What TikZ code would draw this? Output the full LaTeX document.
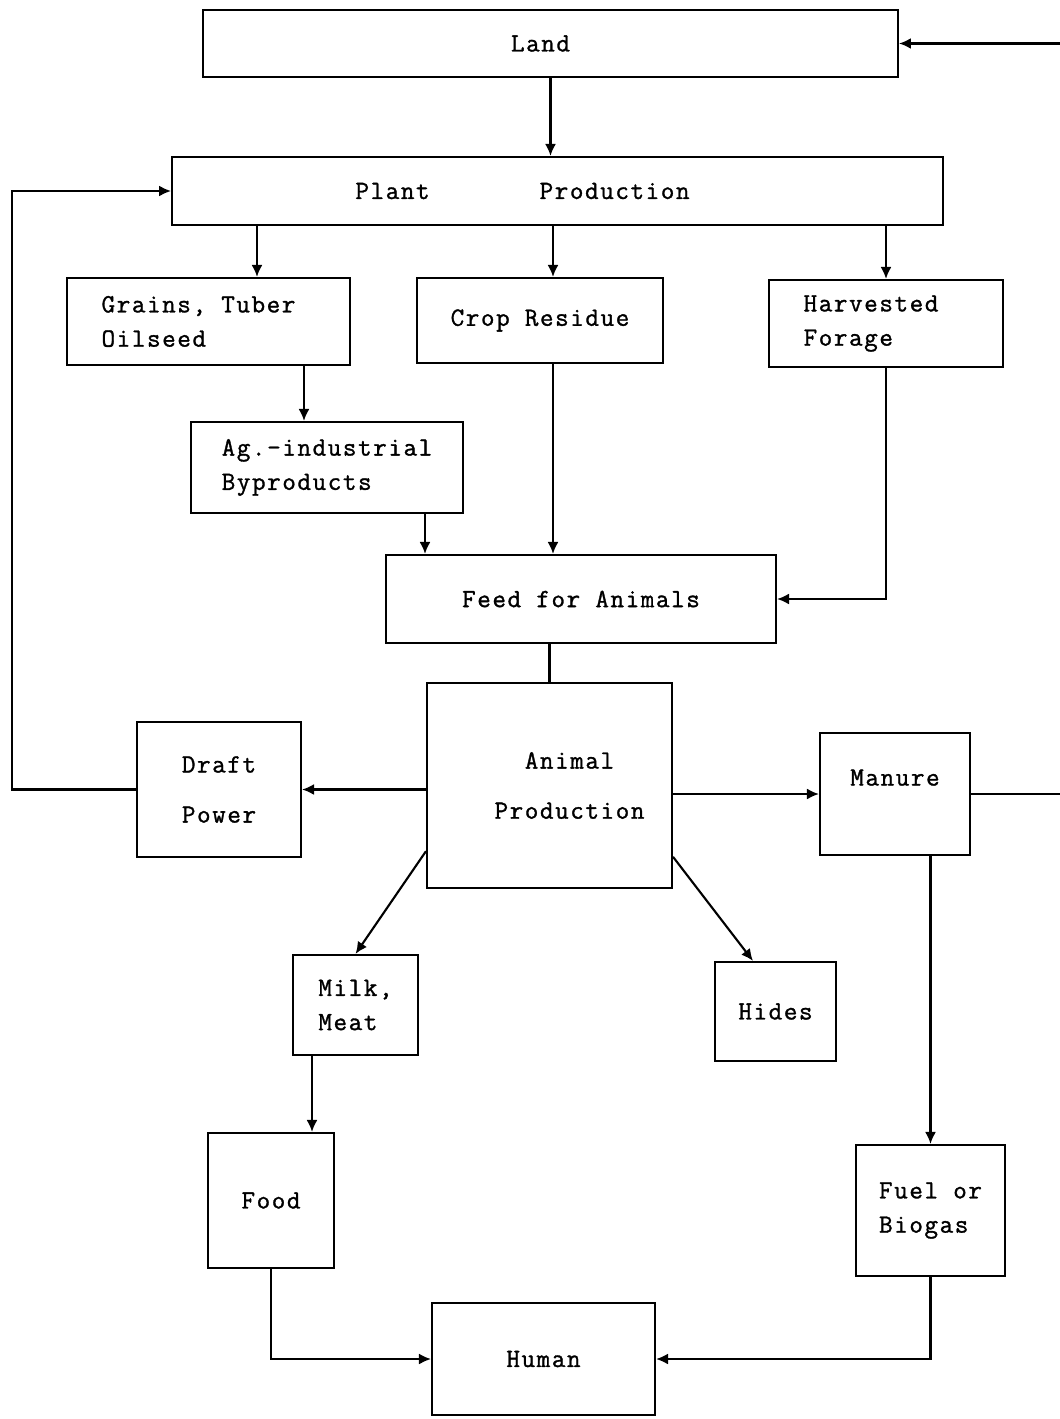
\documentclass[tikz,border=0pt]{standalone}
\usepackage{fontspec}
\newfontfamily\typer{Latin Modern Mono}[LetterSpace=6, FakeBold=1.2]
\usetikzlibrary{arrows.meta}

\begin{document}
\begin{tikzpicture}[x=0.02cm, y=-0.02cm, line width=1.2pt,
    box/.style={draw, rectangle, inner sep=0pt,
                font=\typer\fontsize{15}{19.5}\selectfont, align=center},
    flow/.style={-{Latex[length=2.4mm,width=2.2mm]}}]

    % 1. Fix the frame of the page
    \useasboundingbox (0,0) rectangle (1059,1419);

    % 2. Top row: land and plant production
    \node [box, minimum width=13.9cm, minimum height=1.34cm] (land) at (550.5,43.5) {Land\hspace*{0.4cm}};
    \node [box, minimum width=15.42cm, minimum height=1.36cm] (plant) at (557.5,191) {Plant\hspace{2.2cm}Production\hspace*{1.4cm}};

    % 3. Products of the plants
    \node [box, align=left, minimum width=5.66cm, minimum height=1.74cm] (grains) at (208.5,321.5) {Grains, Tuber\hspace*{0.4cm}\\Oilseed};
    \node [box, minimum width=4.92cm, minimum height=1.7cm] (crop) at (540,320.5) {Crop Residue};
    \node [box, align=left, minimum width=4.68cm, minimum height=1.74cm] (harv) at (886,323.5) {Harvested\hspace*{0.6cm}\\Forage};
    \node [box, align=left, minimum width=5.44cm, minimum height=1.82cm] (ag) at (327,467.5) {Ag.-industrial\\Byproducts};
    \node [box, minimum width=7.8cm, minimum height=1.76cm] (feed) at (581,599) {Feed for Animals};

    % 4. Animal production and what comes out of it
    \node [box, minimum width=4.9cm, minimum height=4.1cm] (animal) at (549.5,785.5) {\hspace{0.8cm}Animal\\[9pt]\hspace{0.8cm}Production};
    \node [box, minimum width=3.28cm, minimum height=2.7cm] (draft) at (219,789.5) {Draft\\[9pt]Power};
    \node [box, minimum width=3.0cm, minimum height=2.44cm] (manure) at (895,794) {\raisebox{0.66cm}{Manure}};
    \node [box, align=left, minimum width=2.5cm, minimum height=2.0cm] (milk) at (355.5,1005) {Milk,\\Meat};
    \node [box, minimum width=2.42cm, minimum height=1.98cm] (hides) at (775.5,1011.5) {Hides};
    \node [box, minimum width=2.52cm, minimum height=2.7cm] (food) at (271,1200.5) {Food};
    \node [box, align=left, minimum width=2.98cm, minimum height=2.62cm] (fuel) at (930.5,1210.5) {Fuel or\\Biogas};
    \node [box, minimum width=4.46cm, minimum height=2.24cm] (human) at (543.5,1359) {Human};

    % 5. Where the lines leave or enter the boxes
    \coordinate (gx) at (257,0);
    \coordinate (cx) at (553,0);
    \coordinate (bx) at (304,0);
    \coordinate (ax) at (425,0);
    \coordinate (hx) at (753,0);
    \coordinate (mx) at (312,0);
    \coordinate (lloop) at (12,0);
    \coordinate (rloop) at (1061,0);

    % 6. Plant side
    \draw [flow] (land.south) -- (land.south |- plant.north);
    \draw [flow] (plant.south -| gx) -- (grains.north -| gx);
    \draw [flow] (plant.south -| cx) -- (crop.north -| cx);
    \draw [flow] (plant.south -| harv.north) -- (harv.north);
    \draw [flow] (grains.south -| bx) -- (ag.north -| bx);
    \draw [flow] (ag.south -| ax) -- (feed.north -| ax);
    \draw [flow] (crop.south -| cx) -- (feed.north -| cx);
    \draw [flow] (harv.south) |- (feed.east);
    \draw (feed.south -| animal.north) -- (animal.north);

    % 7. Animal side
    \draw [flow] (animal.west |- draft.east) -- (draft.east);
    \draw [flow] (animal.east |- manure.west) -- (manure.west);
    \draw [flow] (animal.208) -- (milk.north);
    \draw [flow] (animal.-30) -- (hides.north -| hx);
    \draw [flow] (milk.south -| mx) -- (food.north -| mx);
    \draw [flow] (manure.south -| fuel.north) -- (fuel.north);

    % 8. Loops back to the top
    \draw [flow] (draft.west) -- (draft.west -| lloop) |- (plant.west);
    \draw [flow] (manure.east) -- (manure.east -| rloop) |- (land.east);

    % 9. Down to the human
    \draw [flow] (food.south) |- (human.west);
    \draw [flow] (fuel.south) |- (human.east);

\end{tikzpicture}
\end{document}
